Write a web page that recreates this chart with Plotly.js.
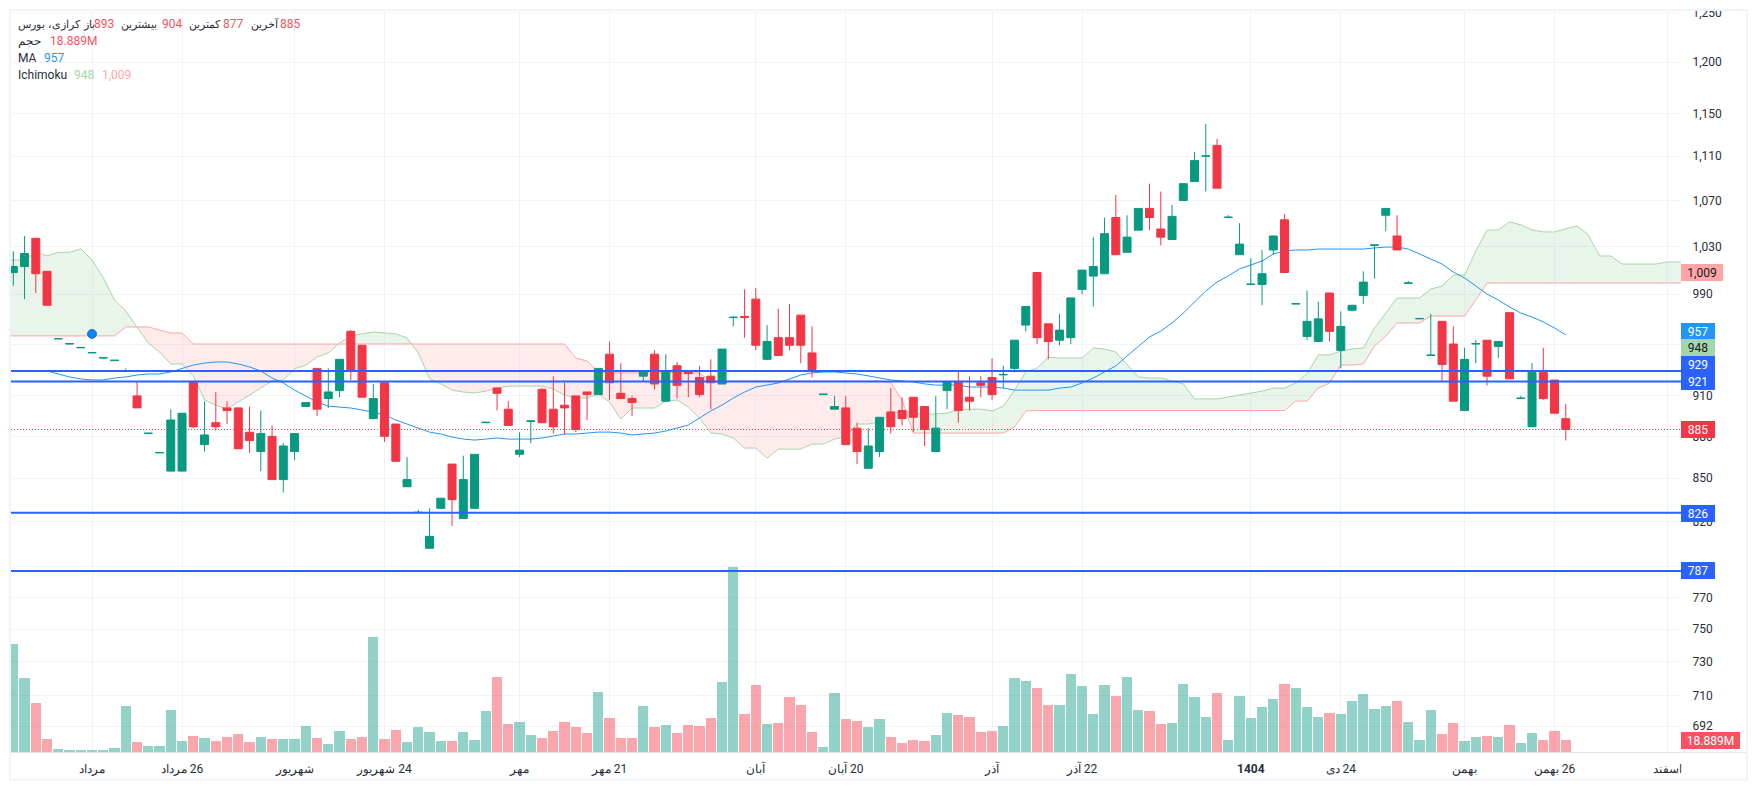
<!DOCTYPE html>
<html>
<head>
<meta charset="utf-8">
<script src="https://cdn.plot.ly/plotly-3.0.1.min.js"></script>
<style>html,body{margin:0;padding:0;background:#fff;overflow:hidden}#chart{width:1757px;height:790px}</style>
</head>
<body>
<div id="chart"></div>
<script>
// ---- data ----
const opens = [1008,1013,1037,1009,954,950,947,943,939,937,
929,910,882,868,855,855,921,874,890,901,
901,883,869,880,849,869,902,931,908,914,
960,949,893,920,889,844,826,802,829,860,
822,829,890,916,900,867,891,915,900,903,
910,913,911,942,912,908,925,942,906,933,
929,924,925,919,971,972,986,938,955,955,
973,943,911,900,901,886,857,869,898,899,
909,902,869,914,921,909,920,924,926,931,
965,1008,966,953,955,994,1005,1007,1055,1025,
1044,1063,1045,1036,1070,1087,1110,1120,1055,1023,
998,998,1027,1053,982,956,952,991,945,977,
989,1031,1057,1039,999,970,941,968,950,899,
950,953,948,975,908,887,928,922,893];
const closes = [1013,1024,1007,981,954.3,950.3,947.3,943.3,939.3,937.3,
929.3,901,882.3,868.3,892,897,887,881,887,899,
871,877,882,849,873,882,905,900,913,938,
930,909,908,880,862,849,826.3,810,836,835,
849,867,890.3,912,888,870,891.3,890,887,901,
885,911,931,920,908,905,929,919,928,918,
927,911,920,946,971.3,971,949,952,941,949,
949,930,911.3,902,874,869,873,894,887,893,
894,885,886,921,899,906,918,911,926.3,953,
980,955,952,961,987,1010,1013,1041,1023,1038,
1063,1055,1038,1056,1085,1106,1110.3,1081,1055.3,1032,
998.3,1007,1039,1008,982.3,968,970,960,964,981,
1000,1031.3,1063,1027,999.3,970.3,941.3,934,906,938,
950.3,925,952,923,908.3,928,908,897,885];
const highs = [1026,1039,1037,1009,954.3,950.3,947.3,943.3,939.3,937.3,
931,921,882.3,868.3,900,897,921,906,913,906,
901,902,899,888,875,882,905,931,931,938,
961,949,919,920,889,865,828,829,836,860,
866,867,890.3,916,906,883,892,916,925,920,
910,913,931,952,935,910,929,945,942,936,
929,933,938,946,972,994,995,965,978,982,
973,964,911.3,910,910,890,886,894,916,909,
909,902,910,921,929,925,925,939,933,953,
980,1008,966,974,987,1010,1038,1055,1075,1057,
1063,1085,1078,1066,1085,1114,1140,1126,1057,1050,
1020,1027,1039,1058,982.3,993,984,991,976,981,
1009,1031.3,1063,1057,1001,970.3,974,968,964,947,
953,953,952,975,910,935,947,922,904];
const lows = [997,986,991,981,954,950,947,943,939,937,
929,901,882,868,855,855,886,869,884,889,
871,868,855,849,840,863,902,895,901,909,
922,909,893,876,862,844,826,802,829,817,
822,829,890,899,888,865,875,890,882,881,
883,892,911,907,908,895,921,915,906,908,
909,909,900,919,964,955,945,938,941,945,
935,924,911,900,874,860,857,865,882,888,
883,873,869,900,890,899,909,907,916,928,
960,950,938,949,950,990,980,1007,1023,1025,
1044,1044,1031,1036,1070,1087,1078,1081,1055,1023,
998,981,1023,1008,982,953,952,952,931,976,
982,1003,1043,1027,999,970,941,921,906,899,
935,918,939,923,908,887,907,897,877];
// volume in millions
const volumes = [166,114,76,20.5,5,3.6,3.6,3.6,3.6,6.7,
71,15.9,9.7,9.7,65,17.4,25,22,17.4,23.6,
28,15.9,23.6,20.5,20.5,20.5,40.4,22,12.8,32.8,
20.5,23.6,177,20.5,34.3,15.9,38.9,31.2,17.4,17.4,
31.2,18.9,63.5,115.7,43.5,46.6,26.6,22,32.8,46.6,
38.9,29.7,92.7,52.7,22,22,71.2,38.9,42,29.7,
42,40.4,52.7,108,284.7,58.9,103.4,43.5,45,85,
72.7,31.2,8.2,91.1,51.2,48.1,38.9,51.2,23.6,14.3,
18.9,17.4,26.6,60.4,57.3,54.3,31.2,32.8,40.4,114.2,
109.6,98.8,72.7,72.7,120.3,101.9,58.9,103.4,86.5,115.7,
65,63.5,43.5,45,105,85,54.3,91.1,18.9,86.5,
52.7,69.6,81.9,105,98.8,69.6,54.3,60.4,58.9,78.8,
89.6,66.6,71.2,78.8,46.6,18.9,65,28.2,45,17.4,
23.6,25,23.6,42,14.3,29.7,18.9,32.8,18.889];
// the indicator series start one step before the first candle, at the chart's left edge
const senkouA = [1018.5,
1018.5,1018.5,1025,1022,1025,1025,1028,1018.5,1003.5,985.3,
976.3,963.5,950.8,943.7,934.4,934.4,925.2,906.9,903.1,900.1,
905.4,910.6,915.9,921.3,922.1,930.6,933.6,939.8,943,950.8,
956.4,958,959.5,958.7,958,954.8,943,922.9,919.1,914.4,
912.9,912.2,913.6,915.9,917.4,917.4,917.4,917.4,915.2,910.6,
908.4,908.4,911.4,905.4,892.7,900.9,900.9,900.9,906.1,906.9,
901.6,893.5,882.4,881.7,878.8,871.5,871.5,864.3,870.7,870.7,
870.7,874.4,874.4,878,879.5,889,889,890.5,896.4,898.7,
897.1,896.4,896.4,897.1,899.4,900.1,900.1,898.7,902.3,914.4,
928.2,931.3,939.8,939,939,939,946.9,946.1,943.7,934.4,
924.4,923.6,923.6,921.3,919.1,907.7,907.7,907.7,909.2,910.6,
912.2,913.6,915.9,915.9,919.8,926.7,941.4,941.4,944.5,946.1,
946.9,962.7,974.7,986.9,986.9,986.9,994.3,996.8,1005.9,1005.9,
1026.2,1044.2,1044.2,1051.2,1048.6,1044.2,1042.5,1042.5,1045.1,1047.7,
1039.9,1021.9,1021.9,1015.1,1015.1,1015.1,1015.1,1016.8,1016.8,1016.8];
const senkouB = [956.4,
956.4,956.4,956.4,956.4,956.4,956.4,956.4,956.4,956.4,956.4,
963.5,963.5,963.5,961.1,958.7,958.7,950,950,950,950,
950,950,950,950,950,950,950,950,950,950,
950,950,950,950,950,950,950,950,950,950,
950,950,950,950,950,950,950,950,950,950,
939,936.7,928.2,927.5,927.5,927.5,927.5,927.5,927.5,927.5,
927.5,927.5,921.3,921.3,921.3,921.3,921.3,921.3,921.3,921.3,
921.3,921.3,921.3,921.3,921.3,921.3,921.3,921.3,919.8,906.9,
882.4,882.4,882.4,882.4,882.4,882.4,882.4,882.4,882.4,886.8,
898.7,899,899,899,899,899,899,899,899,899,
899,899,899,899,899,899,899,899,899,899,
899,899,899,899,906.1,906.1,915.9,919.8,933.6,933.6,
934.4,948.4,956.4,966.7,966.7,966.7,972.3,972.3,972.3,972.3,
985.3,999.3,999.3,999.3,999.3,999.3,999.3,999.3,999.3,999.3,
999.3,999.3,999.3,999.3,999.3,999.3,999.3,999.3,999.3,999.3];
const maValues = [929,
929,929,929,929,926.7,924.4,922.9,922.1,922.1,923.6,
924.4,925.9,926.7,926.7,928.2,930.6,933.6,935.1,935.9,935.9,
934.4,932.1,929,923.6,919.8,914.4,909.9,905.4,902.3,901.6,
900.9,899.4,897.9,895.7,892,889,886.1,883.1,881.7,879.5,
878,877.3,878,878.8,878,878,878,878.8,880.2,881.7,
881.7,882.4,883.1,883.1,882.4,881,881.7,882.4,883.9,886.1,
888.3,893.5,898.7,903.1,908.4,912.9,916.7,918.2,919.8,922.9,
925.9,927.5,928.2,928.2,927.5,926.7,925.2,923.6,922.1,921.3,
920.6,919.1,918.2,918.2,918.2,916.7,916.7,916.7,915.9,914.4,
914.4,914.4,914.4,915.9,916.7,919.8,923.6,928.2,932.9,940.6,
948.4,955.6,960.3,966.7,974.7,983.7,992.7,1000.1,1005.1,1011,
1014.4,1017.6,1023.6,1026.2,1027,1027,1027.8,1027.8,1027.8,1027.8,
1027.8,1028.7,1029.5,1029.5,1027.8,1023.6,1019.3,1015.1,1008.4,1003.5,
996.8,990.2,985.3,979.6,974.7,971.5,967.5,962.7,957.2];
const levels = [929, 921, 826, 787];
const lastPrice = 885;
const dotIndex = [7];
const dotValue = [958];
const priceTicks = [1250,1200,1150,1110,1070,1030,990,950,910,880,850,820,790,770,750,730,710,692];
const priceTickText = ['1,250','1,200','1,150','1,110','1,070','1,030','990','950','910','880','850','820','790','770','750','730','710','692'];
const timeTicks = [7,15,25,33,45,53,66,74,87,95,110,118,129,137,147];
const timeTickText = ['مرداد','\u200F26 مرداد','شهریور','\u200F24 شهریور','مهر','\u200F21 مهر','آبان','\u200F20 آبان','آذر','\u200F22 آذر','<b>1404</b>','\u200F24 دی','بهمن','\u200F26 بهمن','اسفند'];

// ---- styling ----
const GREEN='#089981', RED='#F23645', BLUE='#2962FF', GRID='#F0F3FA', FONT='Roboto, "Noto Sans", sans-serif', TXT='#2A2E39';
const idx = opens.map((_,i)=>i);
const cloudIdx = senkouA.map((_,i)=>i-1);
const maIdx = maValues.map((_,i)=>i-1);
const yRange = [2.83085, 3.0976];

// cloud polygons split where the two spans cross
function cloudTraces(){
  const out=[]; let xa=[],ya=[],yb=[],sign=null;
  const flush=()=>{ if(xa.length>1){ out.push({type:'scatter',mode:'none',yaxis:'y2',hoverinfo:'skip',showlegend:false,
      x:xa.concat(xa.slice().reverse()), y:ya.concat(yb.slice().reverse()), fill:'toself',
      fillcolor: sign>0?'rgba(165,214,167,0.24)':'rgba(255,165,165,0.22)'}); } };
  for(let i=0;i<senkouA.length;i++){
    const d=senkouA[i]-senkouB[i], s=d>=0?1:-1;
    if(sign!==null && s!==sign){
      const dp=senkouA[i-1]-senkouB[i-1], t=dp/(dp-d), xc=cloudIdx[i-1]+t, yc=senkouA[i-1]+t*(senkouA[i]-senkouA[i-1]);
      xa.push(xc);ya.push(yc);yb.push(yc); flush();
      xa=[xc];ya=[yc];yb=[yc];
    }
    sign=s; xa.push(cloudIdx[i]);ya.push(senkouA[i]);yb.push(senkouB[i]);
  }
  flush(); return out;
}

const traces = [
  {type:'bar',x:idx,y:volumes,yaxis:'y',width:0.9,hoverinfo:'skip',showlegend:false,
   marker:{color:idx.map(i=>closes[i]>=opens[i]?'rgba(8,153,129,0.44)':'rgba(242,54,69,0.44)'),line:{width:0}}},
  ...cloudTraces(),
  {type:'scatter',mode:'lines',x:cloudIdx,y:senkouA,yaxis:'y2',line:{color:'#A5D6A7',width:1},hoverinfo:'skip',showlegend:false},
  {type:'scatter',mode:'lines',x:cloudIdx,y:senkouB,yaxis:'y2',line:{color:'#FFA5A5',width:1},hoverinfo:'skip',showlegend:false},
  {type:'scatter',mode:'lines',x:maIdx,y:maValues,yaxis:'y2',line:{color:'#2196F3',width:1},hoverinfo:'skip',showlegend:false},
  {type:'scatter',mode:'lines',x:[-1,150],y:[lastPrice,lastPrice],yaxis:'y2',line:{color:RED,width:1,dash:'1px,2px'},hoverinfo:'skip',showlegend:false},
  {type:'scatter',mode:'markers',x:dotIndex,y:dotValue,yaxis:'y2',marker:{size:9,color:'#0A84F0',line:{color:'#1976D2',width:1}},hoverinfo:'skip',showlegend:false},
  {type:'candlestick',x:idx,open:opens,high:highs,low:lows,close:closes,yaxis:'y3',whiskerwidth:0,showlegend:false,hoverinfo:'skip',
   increasing:{line:{color:GREEN,width:1},fillcolor:GREEN},decreasing:{line:{color:RED,width:1},fillcolor:RED}},
  ...levels.map(v=>({type:'scatter',mode:'lines',x:[-1,150],y:[v,v],yaxis:'y4',line:{color:BLUE,width:2},hoverinfo:'skip',showlegend:false}))
];

// pixel helpers for overlay text, boxes and frame
const L=10,R=1681,T=11,B=752;
const px=v=>(v-L)/(R-L), py=v=>(B-v)/(B-T);
const legendPieces = [
 ['کرازی، بورس',18,24,TXT,11],['باز',83,24,TXT,11],['893',94,24,'#F7525F',12],['بیشترین',121,24,TXT,11],['904',162,24,'#F7525F',12],
 ['کمترین',189,24,TXT,11],['877',223,24,'#F7525F',12],['آخرین',251,24,TXT,11],['885',280,24,'#F7525F',12],
 ['حجم',18,41,TXT,12],['18.889M',50,41,'#F7525F',12],
 ['MA',18,58,TXT,12],['957',44,58,'#2196F3',12],
 ['Ichimoku',18,75,TXT,12],['948',74,75,'#A5D6A7',12],['1,009',102,75,'#FFA5A5',12]
];
const priceBoxes = [
 ['1,009',272.5,42,'#FFA5A5','#131722'],['957',331,34,'#2196F3','#fff'],['948',347.5,34,'#A5D6A7','#131722'],
 ['929',364.5,34,BLUE,'#fff'],['921',381.5,34,BLUE,'#fff'],['885',429.5,34,RED,'#fff'],
 ['826',513.5,34,BLUE,'#fff'],['787',570.5,34,BLUE,'#fff'],['18.889M',740.5,59,'#F7525F','#fff']
];
const annotations = [
 ...legendPieces.map(p=>({xref:'paper',yref:'paper',x:px(p[1]),y:py(p[2]),xanchor:'left',yanchor:'middle',showarrow:false,text:p[0],
    font:{family:FONT,size:p[4],color:p[3]},borderpad:0,borderwidth:0})),
 ...priceBoxes.map(p=>({xref:'paper',yref:'paper',x:px(R),y:py(p[1]),xanchor:'left',yanchor:'middle',showarrow:false,text:p[0],
    width:p[2],height:17,align:'center',valign:'middle',bgcolor:p[3],borderpad:0,borderwidth:0,font:{family:FONT,size:12,color:p[4]}}))
];
const maskShape=(x0,y0,x1,y1)=>({type:'rect',layer:'above',xref:'paper',yref:'paper',x0:px(x0),x1:px(x1),y0:py(y0),y1:py(y1),fillcolor:'#fff',line:{width:0}});
const shapes = [
 maskShape(1681,0,1757,11),
 maskShape(1681.5,753,1746,778),
 {type:'line',layer:'above',xref:'paper',yref:'paper',x0:px(1681),x1:px(1747),y0:py(752.3),y1:py(752.3),line:{color:'#E0E3EB',width:1}},
 {type:'rect',layer:'above',xref:'paper',yref:'paper',x0:px(10),x1:px(1747),y0:py(10),y1:py(779.5),line:{color:'#F0F3FA',width:2},fillcolor:'rgba(0,0,0,0)'}
];
const hiddenLog = {type:'log',range:yRange,overlaying:'y',visible:false,showgrid:false,fixedrange:true};
const layout = {
  width:1757,height:790,margin:{l:L,r:1757-R,t:T,b:790-B,pad:0},
  paper_bgcolor:'#fff',plot_bgcolor:'#fff',showlegend:false,boxgap:0.29,boxgroupgap:0,bargap:0,dragmode:false,
  font:{family:FONT,size:12,color:TXT},
  xaxis:{type:'linear',range:[-0.293,148.24],tickmode:'array',tickvals:timeTicks,ticktext:timeTickText,
    showgrid:true,gridcolor:GRID,gridwidth:1,zeroline:false,showline:true,linecolor:'#E0E3EB',linewidth:1,
    ticks:'outside',ticklen:6,tickcolor:'rgba(0,0,0,0)',tickangle:0,tickfont:{family:FONT,size:12,color:TXT},
    rangeslider:{visible:false},fixedrange:true},
  yaxis:{range:[0,1138],visible:false,showgrid:false,zeroline:false,fixedrange:true},
  yaxis2:{type:'log',range:yRange,overlaying:'y',side:'right',tickmode:'array',tickvals:priceTicks,ticktext:priceTickText,
    showgrid:true,gridcolor:GRID,gridwidth:1,zeroline:false,showline:false,ticks:'outside',ticklen:8,tickcolor:'rgba(0,0,0,0)',
    tickfont:{family:FONT,size:12,color:TXT},fixedrange:true},
  yaxis3:hiddenLog,
  yaxis4:hiddenLog,
  annotations,shapes
};
Plotly.newPlot('chart',traces,layout,{displayModeBar:false,staticPlot:true});
</script>
</body>
</html>
